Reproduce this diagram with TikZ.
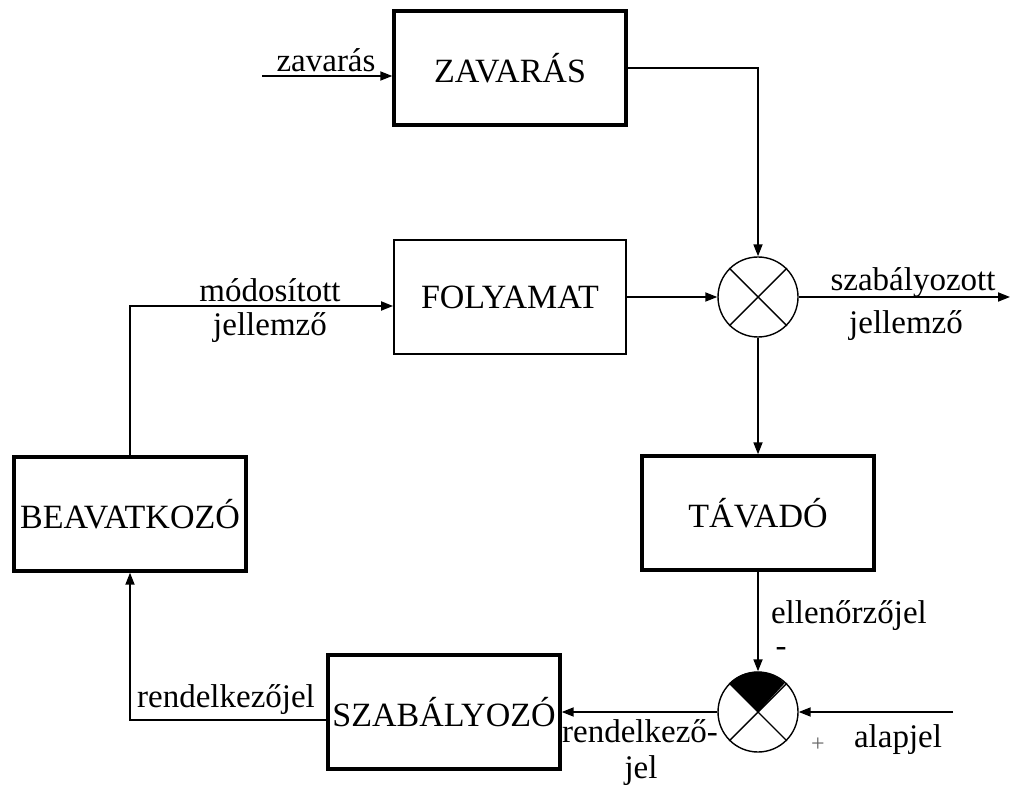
\documentclass[tikz,border=0pt]{standalone}
\usepackage{fontspec}
\setmainfont{Liberation Serif}
\usetikzlibrary{arrows.meta}

\begin{document}
\begin{tikzpicture}[x=0.5pt,y=-0.5pt,
  box/.style={draw,line width=1.7pt,minimum width=116pt,minimum height=57pt,inner sep=0pt,
    font=\fontsize{17}{19}\selectfont},
  thinbox/.style={box,line width=0.9pt},
  mixer/.style={draw,circle,line width=0.7pt,minimum size=40pt,inner sep=0pt},
  arrow/.style={-{Triangle[length=6pt,width=4.5pt]}},
  line/.style={line width=0.9pt},
  every node/.style={font=\fontsize{16.5}{19}\selectfont}]
  \useasboundingbox (0,0) rectangle (1015,790);

  % blocks
  \node[box] (zavaras) at (510,68) {\raisebox{-3pt}{ZAVARÁS}};
  \node[thinbox] (folyamat) at (510,297) {FOLYAMAT};
  \node[box] (beavatkozo) at (130,514) {BEAVATKOZÓ};
  \node[box] (tavado) at (758,513) {\raisebox{-4pt}{TÁVADÓ}};
  \node[box] (szabalyozo) at (444,712) {SZABÁLYOZÓ};

  % summing points
  \node[mixer] (mix) at (758,297) {};
  \node[mixer] (cmp) at (758,712) {};
  \fill (cmp.center) -- (cmp.north west) arc[start angle=135,end angle=45,radius=19.6pt] -- cycle;
  \foreach \c in {mix,cmp} {
    \draw[line width=0.7pt] (\c.north west) -- (\c.south east);
    \draw[line width=0.7pt] (\c.north east) -- (\c.south west);
  }

  \coordinate (dist) at (262,76);
  \coordinate (out) at (1010,297);
  \coordinate (ref) at (953,712);

  \draw[line,arrow] (dist) -- ([yshift=-4pt]zavaras.west);
  \draw[line,arrow] (zavaras.east) -| (mix.north);
  \draw[line,arrow] (folyamat.east) -- (mix.west);
  \draw[line,arrow] (mix.east) -- (out);
  \draw[line,arrow] (mix.south) -- (tavado.north);
  \draw[line,arrow] (tavado.south) -- (cmp.north);
  \draw[line,arrow] (ref) -- (cmp.east);
  \draw[line,arrow] (cmp.west) -- (szabalyozo.east);
  \draw[line,arrow] ([yshift=-4pt]szabalyozo.west) -| (beavatkozo.south);
  \draw[line,arrow] (beavatkozo.north) |- ([yshift=-4.5pt]folyamat.west);

  % labels
  \node (zavarasLabel) at (326,60) {zavarás};
  \node (modositott) at (270,290) {módosított};
  \node (jellemzoIn) at (270,328) {jellemző};
  \node (szabalyozott) at (913,283) {szabályozott};
  \node (jellemzoOut) at (906,326) {jellemző};
  \node[anchor=west] (ellenorzo) at (764,616) {ellenőrzőjel};
  \node (minus) at (781,652) {-};
  \node[font=\fontsize{12}{14}\selectfont,text=black!60] (plus) at (818,745) {+};
  \node (alapjel) at (898,740) {alapjel};
  \node (rendelkezo) at (640,731) {rendelkező-};
  \node (jel) at (641,771) {jel};
  \node (rendelkezojel) at (226,700) {rendelkezőjel};
\end{tikzpicture}
\end{document}
